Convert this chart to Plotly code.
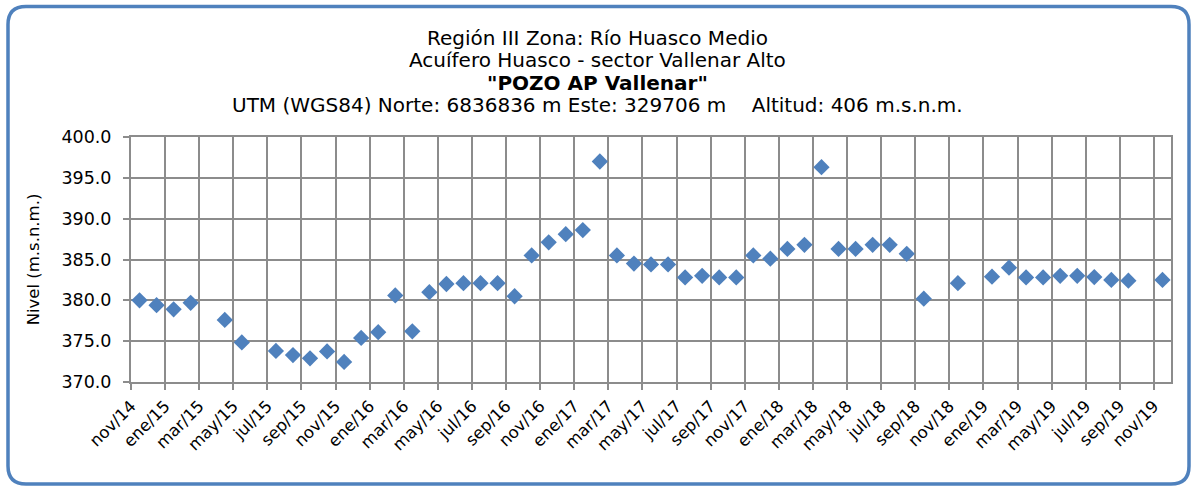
import plotly.graph_objects as go

# Monthly water-level readings (m.s.n.m.) for POZO AP Vallenar
months = [
    "2014-11", "2014-12", "2015-01", "2015-02", "2015-04", "2015-05",
    "2015-07", "2015-08", "2015-09", "2015-10", "2015-11", "2015-12",
    "2016-01", "2016-02", "2016-03", "2016-04", "2016-05", "2016-06",
    "2016-07", "2016-08", "2016-09", "2016-10", "2016-11", "2016-12",
    "2017-01", "2017-02", "2017-03", "2017-04", "2017-05", "2017-06",
    "2017-07", "2017-08", "2017-09", "2017-10", "2017-11", "2017-12",
    "2018-01", "2018-02", "2018-03", "2018-04", "2018-05", "2018-06",
    "2018-07", "2018-08", "2018-09", "2018-11", "2019-01", "2019-02",
    "2019-03", "2019-04", "2019-05", "2019-06", "2019-07", "2019-08",
    "2019-09", "2019-11",
]
nivel = [
    380.0, 379.4, 378.9, 379.7, 377.6, 374.85,
    373.8, 373.3, 372.9, 373.75, 372.45, 375.4,
    376.1, 380.6, 376.2, 381.0, 382.0, 382.1,
    382.1, 382.1, 380.5, 385.5, 387.1, 388.1,
    388.6, 397.0, 385.5, 384.5, 384.4, 384.4,
    382.8, 383.0, 382.8, 382.8, 385.5, 385.1,
    386.3, 386.8, 396.3, 386.3, 386.3, 386.8,
    386.8, 385.7, 380.2, 382.1, 382.9, 384.0,
    382.8, 382.8, 383.0, 383.0, 382.85, 382.5,
    382.4, 382.5,
]
tick_labels = [
    "nov/14", "ene/15", "mar/15", "may/15", "jul/15", "sep/15",
    "nov/15", "ene/16", "mar/16", "may/16", "jul/16", "sep/16",
    "nov/16", "ene/17", "mar/17", "may/17", "jul/17", "sep/17",
    "nov/17", "ene/18", "mar/18", "may/18", "jul/18", "sep/18",
    "nov/18", "ene/19", "mar/19", "may/19", "jul/19", "sep/19",
    "nov/19",
]
title_lines = [
    "Región III Zona: Río Huasco Medio",
    "Acuífero Huasco - sector Vallenar Alto",
    "<b>\"POZO AP Vallenar\"</b>",
    "UTM (WGS84) Norte: 6836836 m Este: 329706 m&nbsp;&nbsp;&nbsp;&nbsp;Altitud: 406 m.s.n.m.",
]

START_YEAR, START_MONTH = 2014, 11


def month_index(ym):
    y, m = (int(p) for p in ym.split("-"))
    return (y - START_YEAR) * 12 + (m - START_MONTH)


# each reading sits in the middle of its month slot
x_vals = [month_index(m) + 0.5 for m in months]
tick_vals = [2 * i for i in range(len(tick_labels))]
n_slots = month_index("2019-11") + 1

W, H = 1195, 490
ML, MR, MT, MB = 131, 24, 137, 108
PW, PH = W - ML - MR, H - MT - MB

FONT = "DejaVu Sans"
GRID = "#8c8c8c"
BLUE = "#4f81bd"

fig = go.Figure()
fig.add_trace(go.Scatter(
    x=x_vals, y=nivel, mode="markers",
    marker=dict(symbol="diamond", size=12.5, color=BLUE),
    hoverinfo="y",
))


def px(X, Y):
    return (X - ML) / PW, (H - MB - Y) / PH


def rounded_rect(x0, y0, x1, y1, r):
    pts = [
        ("M", (x0 + r, y0)), ("L", (x1 - r, y0)), ("Q", (x1, y0), (x1, y0 + r)),
        ("L", (x1, y1 - r)), ("Q", (x1, y1), (x1 - r, y1)),
        ("L", (x0 + r, y1)), ("Q", (x0, y1), (x0, y1 - r)),
        ("L", (x0, y0 + r)), ("Q", (x0, y0), (x0 + r, y0)),
    ]
    out = []
    for cmd, *coords in pts:
        s = " ".join("%.5f,%.5f" % px(*c) for c in coords)
        out.append(f"{cmd}{s}")
    return " ".join(out) + " Z"


fig.add_shape(type="path", xref="paper", yref="paper",
              path=rounded_rect(8, 6.5, 1189, 484, 18),
              line=dict(color=BLUE, width=3.5))

# four-line heading, centred on the whole chart
for i, line in enumerate(title_lines):
    cy = 38 + i * 22.3
    fig.add_annotation(
        text=line, xref="paper", yref="paper",
        x=px(W / 2, 0)[0], y=px(0, cy)[1],
        xanchor="center", yanchor="middle", showarrow=False,
        font=dict(family=FONT, size=20, color="black"),
    )

fig.update_layout(
    width=W, height=H,
    margin=dict(l=ML, r=MR, t=MT, b=MB),
    paper_bgcolor="white", plot_bgcolor="white",
    showlegend=False,
    font=dict(family=FONT, color="black"),
    xaxis=dict(
        range=[0, n_slots], tickmode="array",
        tickvals=tick_vals, ticktext=tick_labels, tickangle=-45,
        showgrid=True, gridcolor=GRID, gridwidth=2,
        showline=True, linecolor=GRID, linewidth=2, mirror=True,
        ticks="outside", ticklen=6, tickcolor=GRID, tickwidth=2,
        tickfont=dict(family=FONT, size=16.5),
        zeroline=False, fixedrange=True,
    ),
    yaxis=dict(
        range=[370, 400], dtick=5, tick0=370, tickformat=".1f",
        showgrid=True, gridcolor=GRID, gridwidth=2,
        showline=True, linecolor=GRID, linewidth=2, mirror=True,
        ticks="outside", ticklen=6, tickcolor=GRID, tickwidth=2,
        ticklabelstandoff=8,
        tickfont=dict(family=FONT, size=17.5),
        title=dict(text="Nivel (m.s.n.m.)", font=dict(family=FONT, size=16.5),
                   standoff=18),
        zeroline=False, fixedrange=True,
    ),
)

fig.write_html("out.html")
